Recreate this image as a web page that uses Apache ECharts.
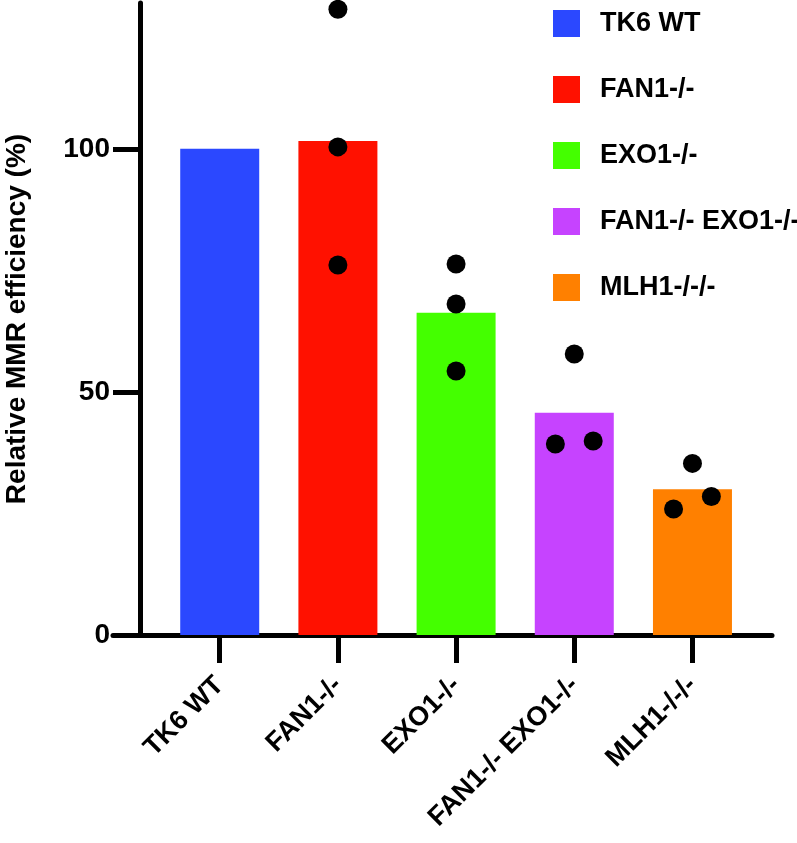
<!DOCTYPE html>
<html><head><meta charset="utf-8">
<script src="https://cdn.jsdelivr.net/npm/echarts@6/dist/echarts.min.js"></script>
<style>html,body{margin:0;padding:0;background:#fff}#c{width:797px;height:843px}</style>
</head><body><div id="c"></div>
<script>
// ---- data ----
const categories = ['TK6 WT', 'FAN1-/-', 'EXO1-/-', 'FAN1-/- EXO1-/-', 'MLH1-/-/-'];
const barValues = [100, 101.6, 66.3, 45.7, 30.0];
const pointValues = [[], [128.7, 100.4, 76.1], [76.3, 68.1, 54.3], [57.8, 39.3, 39.9], [35.3, 28.5, 25.9]];
const pointJitter = [[], [0, 0, 0], [0, 0, 0], [0, -0.16, 0.16], [0, 0.16, -0.16]];
const yTickValues = [0, 50, 100];
const yAxisTitle = 'Relative MMR efficiency (%)';
const barColors = ['#2B48FF', '#FF1100', '#44FF00', '#C643FF', '#FF8000'];

const TXT = "'Liberation Sans',Arial,sans-serif";
const catIdx = categories.map((c, i) => i);

const barSeries = categories.map((c, i) => ({
  type: 'bar', name: c, data: [[i, barValues[i]]], barWidth: 79, barGap: '-100%',
  itemStyle: { color: barColors[i], opacity: 1 }, z: 2, silent: true
}));
const scatterData = [];
pointValues.forEach((vals, i) => vals.forEach((v, j) => scatterData.push([i + pointJitter[i][j], v])));

const chart = echarts.init(document.getElementById('c'), null, { renderer: 'canvas' });
chart.setOption({
  animation: false,
  backgroundColor: '#fff',
  grid: { left: 113, right: 25, top: 3, bottom: 208, containLabel: false, outerBoundsMode: 'none' },
  legend: {
    data: categories, orient: 'vertical', left: 548, top: 5,
    itemWidth: 27, itemHeight: 27, itemGap: 39, icon: 'rect', selectedMode: false,
    textStyle: { fontSize: 27, fontWeight: 'bold', fontFamily: TXT, color: '#000', padding: [0, 0, 0, 15], lineHeight: 27 }
  },
  xAxis: {
    type: 'value', min: -0.903, max: 4.673,
    axisLine: { show: true, onZero: false, lineStyle: { color: '#000', width: 5 } },
    axisTick: { show: true, customValues: catIdx, length: 28, lineStyle: { color: '#000', width: 5 } },
    axisLabel: {
      customValues: catIdx, formatter: v => categories[Math.round(v)], rotate: 45, margin: 46,
      fontSize: 27, fontWeight: 'bold', fontFamily: TXT, color: '#000'
    },
    splitLine: { show: false }
  },
  yAxis: {
    type: 'value', min: 0, max: 130, interval: 50, offset: -27,
    name: yAxisTitle, nameLocation: 'middle', nameGap: 109, nameRotate: 90,
    nameTextStyle: { fontSize: 28, fontWeight: 'bold', fontFamily: TXT, color: '#000' },
    axisLine: { show: true, onZero: false, lineStyle: { color: '#000', width: 5 } },
    axisTick: { show: true, customValues: yTickValues, length: 27, lineStyle: { color: '#000', width: 5 } },
    axisLabel: { customValues: yTickValues, margin: 30, fontSize: 28, fontWeight: 'bold', fontFamily: TXT, color: '#000' },
    splitLine: { show: false }
  },
  series: barSeries.concat([{
    type: 'scatter', name: 'points', data: scatterData, symbol: 'circle', symbolSize: 19,
    itemStyle: { color: '#000', opacity: 1 }, z: 5, silent: true
  }])
});
</script></body></html>
